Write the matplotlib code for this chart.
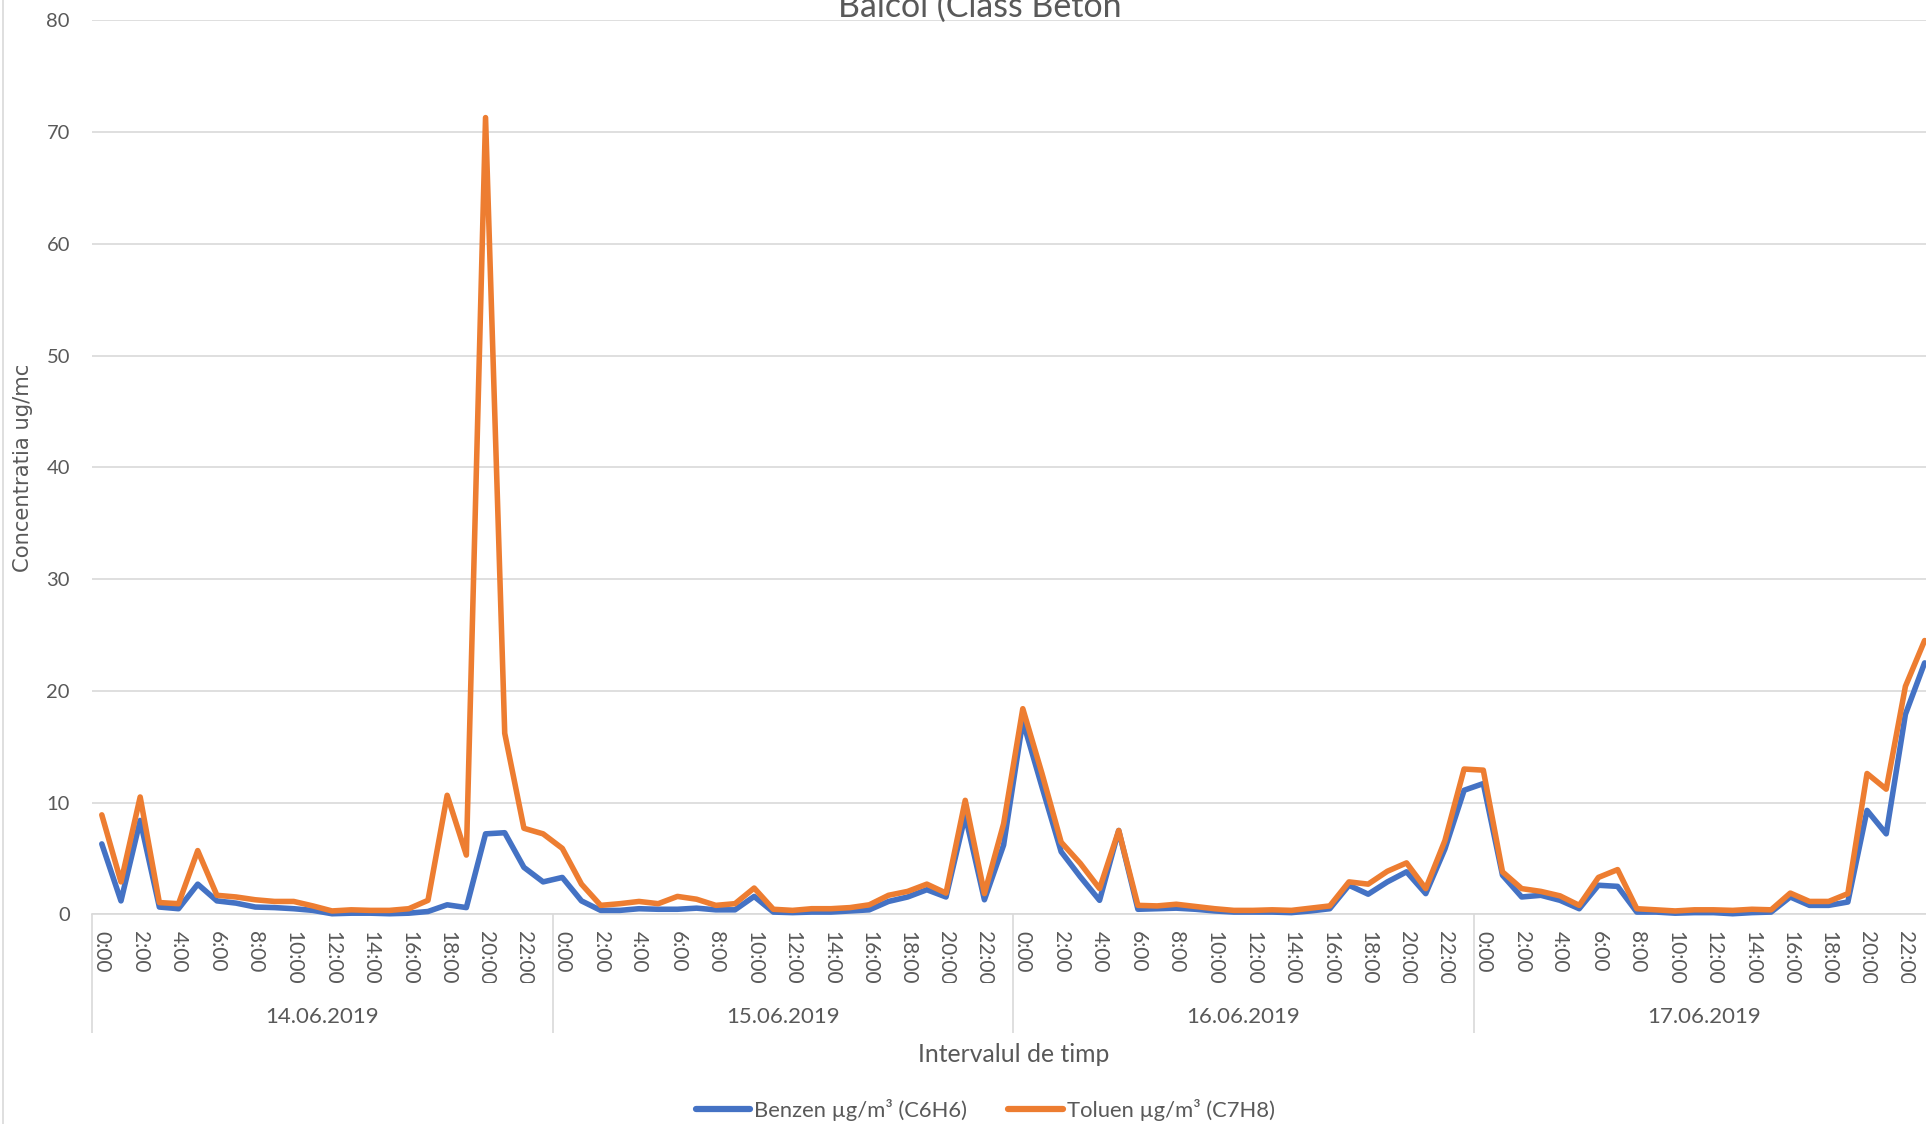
import matplotlib
matplotlib.use("Agg")
import matplotlib.pyplot as plt
import matplotlib.transforms as mtransforms
import numpy as np

plt.rcParams['font.family'] = ['Lato', 'DejaVu Sans']

days = ["14.06.2019", "15.06.2019", "16.06.2019", "17.06.2019"]
hours = [f"{h}:00" for h in range(24)]

benzen = [
    6.3, 1.2, 8.4, 0.65, 0.5, 2.7, 1.2, 1.0, 0.65, 0.6, 0.5, 0.35, 0.05, 0.1, 0.1, 0.05, 0.1, 0.25, 0.85, 0.6, 7.2, 7.3, 4.2, 2.9,
    3.3, 1.2, 0.35, 0.35, 0.5, 0.45, 0.45, 0.55, 0.4, 0.4, 1.6, 0.2, 0.15, 0.2, 0.2, 0.3, 0.4, 1.15, 1.55, 2.2, 1.55, 8.85, 1.3, 6.2,
    17.3, 11.4, 5.6, 3.35, 1.25, 7.5, 0.45, 0.5, 0.55, 0.45, 0.3, 0.2, 0.2, 0.2, 0.15, 0.3, 0.5, 2.6, 1.8, 2.9, 3.8, 1.85, 5.85, 11.1,
    11.7, 3.5, 1.55, 1.7, 1.25, 0.5, 2.6, 2.5, 0.2, 0.2, 0.1, 0.15, 0.15, 0.05, 0.15, 0.2, 1.55, 0.8, 0.8, 1.1, 9.3, 7.2, 17.9, 22.5,
]
toluen = [
    8.9, 2.9, 10.5, 1.05, 0.95, 5.7, 1.7, 1.55, 1.3, 1.15, 1.15, 0.75, 0.3, 0.4, 0.35, 0.35, 0.5, 1.25, 10.65, 5.3, 71.3, 16.2, 7.7, 7.2,
    5.9, 2.7, 0.8, 0.95, 1.15, 0.95, 1.6, 1.35, 0.8, 0.95, 2.35, 0.45, 0.35, 0.5, 0.5, 0.6, 0.85, 1.7, 2.05, 2.7, 1.9, 10.2, 1.85, 8.1,
    18.4, 12.6, 6.45, 4.55, 2.3, 7.5, 0.8, 0.75, 0.9, 0.7, 0.5, 0.35, 0.35, 0.4, 0.35, 0.55, 0.75, 2.9, 2.7, 3.85, 4.6, 2.3, 6.6, 13.0,
    12.9, 3.8, 2.3, 2.05, 1.65, 0.8, 3.3, 4.0, 0.5, 0.4, 0.3, 0.4, 0.4, 0.35, 0.45, 0.4, 1.9, 1.15, 1.15, 1.85, 12.6, 11.2, 20.4, 24.5,
]
y_ticks = [0, 10, 20, 30, 40, 50, 60, 70, 80]

series_names = ["Benzen µg/m³ (C6H6)", "Toluen µg/m³ (C7H8)"]
colors = ["#4472C4", "#ED7D31"]
txt = "#595959"
grid_c = "#D9D9D9"

W, H = 1926, 1124
fig = plt.figure(figsize=(W / 100, H / 100), dpi=100)
fig.patch.set_facecolor("white")

left, right, bottom_px, top_px = 92.2, 1934.2, 914.3, 20.4
ax = fig.add_axes([left / W, 1 - bottom_px / H, (right - left) / W, (bottom_px - top_px) / H])

n = len(benzen)
x = np.arange(n)
for vals, col, name in zip([benzen, toluen], colors, series_names):
    ax.plot(x, vals, color=col, lw=4.0, label=name,
            solid_joinstyle="round", solid_capstyle="round", clip_on=False, zorder=3)

ax.set_xlim(-0.5, n - 0.5)
ax.set_ylim(0, 80)
ax.set_yticks(y_ticks)
ax.set_yticklabels([str(v) for v in y_ticks], fontsize=14.5, color=txt)
ax.tick_params(axis="y", length=0, pad=16)
ax.set_xticks([])
ax.grid(axis="y", color=grid_c, lw=1.2, zorder=0)
for s in ["left", "right", "top"]:
    ax.spines[s].set_visible(False)
ax.spines["bottom"].set_color(grid_c)
ax.spines["bottom"].set_linewidth(1.2)
ax.set_axisbelow(True)

# hour tick labels (rotated, clipped like the source)
blend = mtransforms.blended_transform_factory(ax.transData, fig.transFigure)
clip_bb = mtransforms.TransformedBbox(
    mtransforms.Bbox([[0, 1 - 982.5 / H], [1, 1 - 914.5 / H]]), fig.transFigure)
for d in range(len(days)):
    for h in range(0, 24, 2):
        t = ax.text(d * 24 + h, 1 - 931 / H, hours[h], transform=blend,
                    rotation=270, ha="center", va="top", fontsize=15, color=txt)
        t.set_clip_box(clip_bb)
        t.set_clip_on(True)
    ax.text(d * 24 + 11.5, 1 - 1017 / H, days[d], transform=blend,
            ha="center", va="center", fontsize=16, color=txt)

# day separator lines
ax.vlines([d * 24 - 0.5 for d in range(len(days) + 1)], 1 - 1033 / H, 1 - 914.3 / H,
          transform=blend, colors=grid_c, lw=1.2, clip_on=False)

fig.text(((left + right) / 2) / W, 1 - 1054 / H, "Intervalul de timp",
         ha="center", va="center", fontsize=17.8, color=txt)
fig.text(23 / W, 1 - 468 / H, "Concentratia ug/mc", rotation=90,
         ha="center", va="center", fontsize=15.2, color=txt, family=["DejaVu Sans"])
fig.text(980 / W, 1 - 17 / H, "Balcol (Class Beton", ha="center", va="baseline",
         fontsize=24.4, color=txt)

# left border of chart area
fig.add_artist(plt.Line2D([3 / W, 3 / W], [0, 1], transform=fig.transFigure,
                          color=grid_c, lw=1.2))

leg = fig.legend(loc="center", bbox_to_anchor=(985 / W, 1 - 1110 / H), ncol=2,
                 frameon=False, fontsize=15.8, handlelength=2.5, handletextpad=0.15,
                 columnspacing=1.9, borderpad=0)
for t in leg.get_texts():
    t.set_color(txt)
for l in leg.get_lines():
    l.set_linewidth(4.5)
    l.set_solid_capstyle("round")

fig.savefig("out.png", dpi=100, facecolor="white")
